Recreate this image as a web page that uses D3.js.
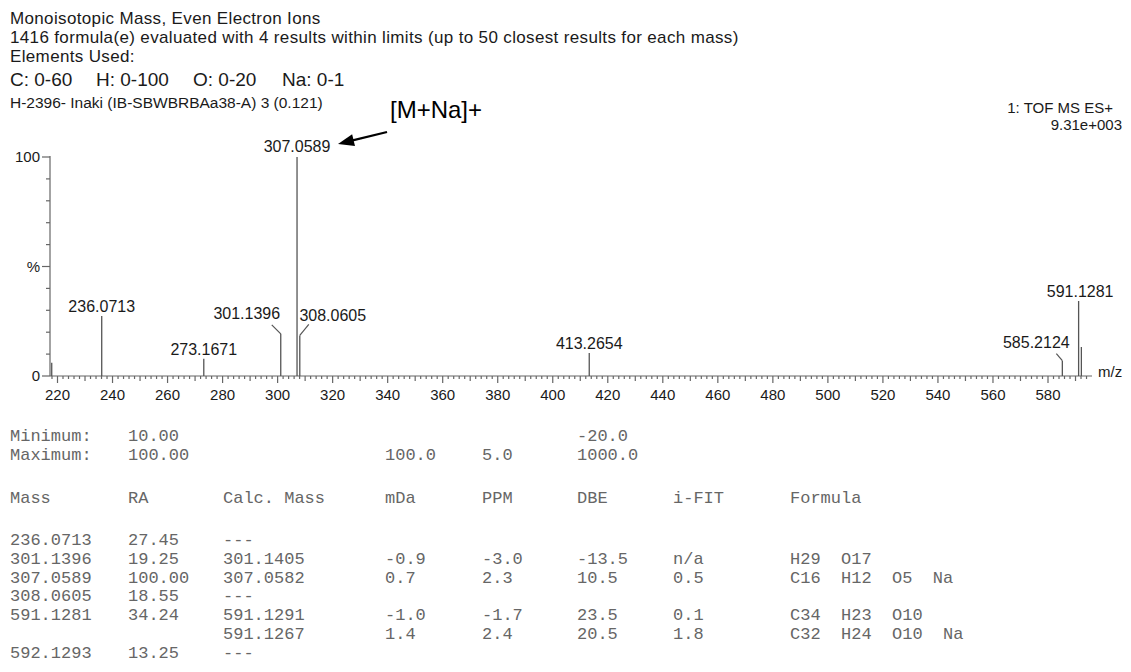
<!DOCTYPE html>
<html><head><meta charset="utf-8">
<script src="https://cdn.jsdelivr.net/npm/d3@7"></script>
<style>body{margin:0;background:#fff} svg{display:block}</style>
</head><body><svg id="c" width="1131" height="672"></svg>
<script>
// ---------- data ----------
const headerLines = ["Monoisotopic Mass, Even Electron Ions",
  "1416 formula(e) evaluated with 4 results within limits (up to 50 closest results for each mass)",
  "Elements Used:"];
const elements = ["C: 0-60", "H: 0-100", "O: 0-20", "Na: 0-1"];
const sampleLine = "H-2396- Inaki (IB-SBWBRBAa38-A) 3 (0.121)";
const instrument = ["1: TOF MS ES+", "9.31e+003"];
const annotation = "[M+Na]+";

const peakMz = [217.9, 236.0713, 273.1671, 301.1396, 307.0589, 308.0605, 413.2654, 585.2124, 591.1281, 592.1293];
const peakIntensity = [6, 27.45, 7.9, 19.25, 100, 18.55, 10.5, 7, 34.24, 13.25];
const peakLabels = ["", "236.0713", "273.1671", "301.1396", "307.0589", "308.0605", "413.2654", "585.2124", "591.1281", ""];
const xTickValues = d3.range(220, 581, 20);
const yTickValues = [0, 50, 100];
const yTickLabels = ["0", "%", "100"];
const xAxisTitle = "m/z";

const tableColumns = ["Mass", "RA", "Calc. Mass", "mDa", "PPM", "DBE", "i-FIT", "Formula"];
const limitMin = ["Minimum:", "10.00", "", "", "", "-20.0", "", ""];
const limitMax = ["Maximum:", "100.00", "", "100.0", "5.0", "1000.0", "", ""];
const rowMass = ["236.0713", "301.1396", "307.0589", "308.0605", "591.1281", "", "592.1293"];
const rowRA = ["27.45", "19.25", "100.00", "18.55", "34.24", "", "13.25"];
const rowCalc = ["---", "301.1405", "307.0582", "---", "591.1291", "591.1267", "---"];
const rowMDa = ["", "-0.9", "0.7", "", "-1.0", "1.4", ""];
const rowPPM = ["", "-3.0", "2.3", "", "-1.7", "2.4", ""];
const rowDBE = ["", "-13.5", "10.5", "", "23.5", "20.5", ""];
const rowIFit = ["", "n/a", "0.5", "", "0.1", "1.8", ""];
const rowFormula = ["", "H29  O17", "C16  H12  O5  Na", "", "C34  H23  O10", "C32  H24  O10  Na", ""];

// ---------- layout ----------
const svg = d3.select("#c");
const SANS = "Arial, 'Liberation Sans', sans-serif";
const MONO = "'Courier New', 'Liberation Mono', monospace";
const x = d3.scaleLinear().domain([220, 580]).range([57.5, 1048]);
const y = d3.scaleLinear().domain([0, 100]).range([376, 157]);
const axisLeft = 50, axisRight = 1092;
const axisColor = "#666", peakColor = "#555", textColor = "#1a1a1a";

const labelLayout = {
  "301.1396": {dx: -34, dy: -15, leader: [-9, -9]},
  "308.0605": {dx: 33, dy: -14, leader: [9, -11]},
  "585.2124": {dx: -26, dy: -13, leader: [-6, -7]},
  "591.1281": {dx: 1.5, dy: -4},
  "307.0589": {dx: 0, dy: -5}
};

// header
const hdr = svg.append("g").attr("fill", textColor).attr("font-family", SANS);
const headerY = [24, 43, 62];
headerLines.forEach((t, i) => hdr.append("text").attr("x", 10).attr("y", headerY[i])
  .attr("font-size", 17).attr("letter-spacing", 0.35).text(t));
const elemX = [10, 96, 193, 282];
elements.forEach((t, i) => hdr.append("text").attr("x", elemX[i]).attr("y", 86).attr("font-size", 19).text(t));
hdr.append("text").attr("x", 10).attr("y", 108).attr("font-size", 15.5).text(sampleLine);
hdr.append("text").attr("x", 1113).attr("y", 113).attr("font-size", 15).attr("text-anchor", "end").text(instrument[0]);
hdr.append("text").attr("x", 1122).attr("y", 130).attr("font-size", 15).attr("text-anchor", "end").text(instrument[1]);

// annotation with arrow pointing at the base peak label
const baseX = x(peakMz[4]);
const tip = [baseX + 41, y(100) - 13], tail = [baseX + 90, y(100) - 25];
const dxA = tip[0] - tail[0], dyA = tip[1] - tail[1], lenA = Math.hypot(dxA, dyA);
const ux = dxA / lenA, uy = dyA / lenA, headL = 16, headW = 6;
const base = [tip[0] - headL * ux, tip[1] - headL * uy];
svg.append("line").attr("x1", tail[0]).attr("y1", tail[1]).attr("x2", base[0] + 2 * ux).attr("y2", base[1] + 2 * uy)
  .attr("stroke", "#000").attr("stroke-width", 2.2);
svg.append("path").attr("fill", "#000")
  .attr("d", `M${tip[0]},${tip[1]} L${base[0] - headW * uy},${base[1] + headW * ux} L${base[0] + headW * uy},${base[1] - headW * ux} Z`);
svg.append("text").attr("x", 390).attr("y", 118).attr("font-family", SANS).attr("font-size", 24)
  .attr("fill", "#000").text(annotation);

// axes
const ax = svg.append("g").attr("stroke", axisColor).attr("stroke-width", 1.2).attr("fill", "none");
ax.append("line").attr("x1", axisLeft).attr("x2", axisLeft).attr("y1", y(100) - 1).attr("y2", y(0));
ax.append("line").attr("x1", axisLeft).attr("x2", axisRight).attr("y1", y(0)).attr("y2", y(0));
d3.range(0, 101, 10).forEach(v => {
  const major = v % 50 === 0;
  ax.append("line").attr("x1", axisLeft - (major ? 8 : 4)).attr("x2", axisLeft).attr("y1", y(v)).attr("y2", y(v));
});
const minorMax = x.invert(axisRight - 2);
d3.range(218, minorMax, 2).forEach(v => {
  const len = v % 20 === 0 ? 7 : (v % 10 === 0 ? 5 : 3);
  ax.append("line").attr("x1", x(v)).attr("x2", x(v)).attr("y1", y(0)).attr("y2", y(0) + len);
});
const tl = svg.append("g").attr("font-family", SANS).attr("font-size", 15).attr("fill", textColor);
xTickValues.forEach(v => tl.append("text").attr("x", x(v)).attr("y", 400).attr("text-anchor", "middle").text(v));
yTickValues.forEach((v, i) => tl.append("text").attr("x", 40).attr("y", y(v) + 5).attr("text-anchor", "end").text(yTickLabels[i]));
tl.append("text").attr("x", 1098).attr("y", 377).text(xAxisTitle);

// peaks
const pk = svg.append("g");
peakMz.forEach((m, i) => {
  const px = x(m), top = y(peakIntensity[i]);
  pk.append("line").attr("x1", px).attr("x2", px).attr("y1", top).attr("y2", y(0))
    .attr("stroke", peakColor).attr("stroke-width", 1.3);
  const lab = peakLabels[i];
  if (!lab) return;
  const L = labelLayout[lab] || {dx: 0, dy: -4};
  if (L.leader) {
    pk.append("line").attr("x1", px).attr("y1", top).attr("x2", px + L.leader[0]).attr("y2", top + L.leader[1])
      .attr("stroke", peakColor).attr("stroke-width", 1.2);
  }
  pk.append("text").attr("x", px + L.dx).attr("y", top + L.dy).attr("text-anchor", "middle")
    .attr("font-family", SANS).attr("font-size", 16).attr("fill", textColor).text(lab);
});

// table
const colX = [10, 128, 223, 385, 482, 577, 673, 790];
const tb = svg.append("g").attr("font-family", MONO).attr("font-size", 17).attr("fill", "#666")
  .style("white-space", "pre");
function row(cells, yy) {
  cells.forEach((t, i) => { if (t) tb.append("text").attr("x", colX[i]).attr("y", yy).attr("xml:space", "preserve").text(t); });
}
row(limitMin, 441);
row(limitMax, 460);
row(tableColumns, 503);
const rowY = [545, 564, 583, 601, 620, 639, 658];
rowMass.forEach((m, i) => row([m, rowRA[i], rowCalc[i], rowMDa[i], rowPPM[i], rowDBE[i], rowIFit[i], rowFormula[i]], rowY[i]));
</script></body></html>
